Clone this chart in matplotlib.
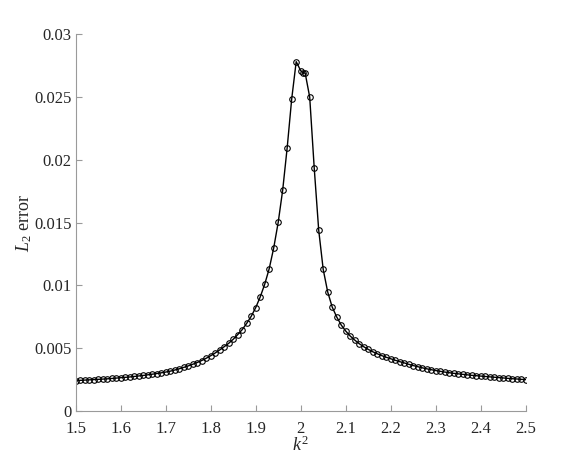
import matplotlib
matplotlib.use("Agg")
import matplotlib.pyplot as plt
import numpy as np

plt.rcParams['font.family'] = ['Liberation Serif', 'DejaVu Serif']
plt.rcParams['mathtext.fontset'] = 'custom'
plt.rcParams['mathtext.rm'] = 'Liberation Serif'
plt.rcParams['mathtext.it'] = 'Liberation Serif:italic'

k2 = [1.50, 1.51, 1.52, 1.53, 1.54, 1.55, 1.56, 1.57, 1.58, 1.59,
      1.60, 1.61, 1.62, 1.63, 1.64, 1.65, 1.66, 1.67, 1.68, 1.69,
      1.70, 1.71, 1.72, 1.73, 1.74, 1.75, 1.76, 1.77, 1.78, 1.79,
      1.80, 1.81, 1.82, 1.83, 1.84, 1.85, 1.86, 1.87, 1.88, 1.89,
      1.90, 1.91, 1.92, 1.93, 1.94, 1.95, 1.96, 1.97, 1.98, 1.99,
      2.00, 2.005, 2.01, 2.02, 2.03, 2.04, 2.05, 2.06, 2.07, 2.08, 2.09,
      2.10, 2.11, 2.12, 2.13, 2.14, 2.15, 2.16, 2.17, 2.18, 2.19,
      2.20, 2.21, 2.22, 2.23, 2.24, 2.25, 2.26, 2.27, 2.28, 2.29,
      2.30, 2.31, 2.32, 2.33, 2.34, 2.35, 2.36, 2.37, 2.38, 2.39,
      2.40, 2.41, 2.42, 2.43, 2.44, 2.45, 2.46, 2.47, 2.48, 2.49, 2.50]

l2_error = [0.00242, 0.00244, 0.00246, 0.00248, 0.00250, 0.00252, 0.00254, 0.00256, 0.00259, 0.00262,
            0.00265, 0.00268, 0.00271, 0.00275, 0.00279, 0.00283, 0.00288, 0.00293, 0.00298, 0.00304,
            0.00310, 0.00317, 0.00326, 0.00336, 0.00347, 0.00359, 0.00372, 0.00386, 0.00402, 0.00420,
            0.00440, 0.00462, 0.00486, 0.00512, 0.00539, 0.00571, 0.00608, 0.00648, 0.00698, 0.00754,
            0.00823, 0.00908, 0.01009, 0.01133, 0.01298, 0.01502, 0.01760, 0.02098, 0.02485, 0.02782,
            0.02710, 0.02695, 0.02690, 0.02500, 0.01938, 0.01441, 0.01128, 0.00948, 0.00828, 0.00749, 0.00685,
            0.00637, 0.00597, 0.00565, 0.00536, 0.00512, 0.00491, 0.00472, 0.00456, 0.00441, 0.00428,
            0.00416, 0.00404, 0.00393, 0.00383, 0.00372, 0.00362, 0.00353, 0.00344, 0.00336, 0.00329,
            0.00322, 0.00316, 0.00310, 0.00305, 0.00300, 0.00296, 0.00292, 0.00288, 0.00284, 0.00281,
            0.00278, 0.00275, 0.00272, 0.00269, 0.00266, 0.00263, 0.00260, 0.00257, 0.00255, 0.00252, 0.00250]

xticks = [1.5, 1.6, 1.7, 1.8, 1.9, 2.0, 2.1, 2.2, 2.3, 2.4, 2.5]
xticklabels = ['1.5', '1.6', '1.7', '1.8', '1.9', '2', '2.1', '2.2', '2.3', '2.4', '2.5']
yticks = [0, 0.005, 0.01, 0.015, 0.02, 0.025, 0.03]
yticklabels = ['0', '0.005', '0.01', '0.015', '0.02', '0.025', '0.03']

fig = plt.figure(figsize=(5.81, 4.62), dpi=100)
ax = fig.add_axes([0.1303, 0.1104, 0.7745, 0.8154])

ax.plot(k2, l2_error, color='black', linewidth=1.0, marker='o', markersize=4.0,
        markerfacecolor='none', markeredgecolor='black', markeredgewidth=0.8)

ax.set_xlim(1.5, 2.5)
ax.set_ylim(0, 0.03)
ax.set_xticks(xticks)
ax.set_xticklabels(xticklabels)
ax.set_yticks(yticks)
ax.set_yticklabels(yticklabels)

for s in ['top', 'right']:
    ax.spines[s].set_visible(False)
for s in ['left', 'bottom']:
    ax.spines[s].set_color('#9a9a9a')
    ax.spines[s].set_linewidth(0.8)

ax.tick_params(direction='in', length=4, width=0.8, color='#9a9a9a',
               labelsize=12, labelcolor='#262626')
ax.tick_params(axis='x', pad=7)
ax.tick_params(axis='y', pad=3)

ax.set_xlabel('$k^2$', fontsize=13, color='#262626', labelpad=-1)
ax.set_ylabel('$L_2$ error', fontsize=13, color='#262626', labelpad=0)

fig.savefig('out.png', dpi=100)
